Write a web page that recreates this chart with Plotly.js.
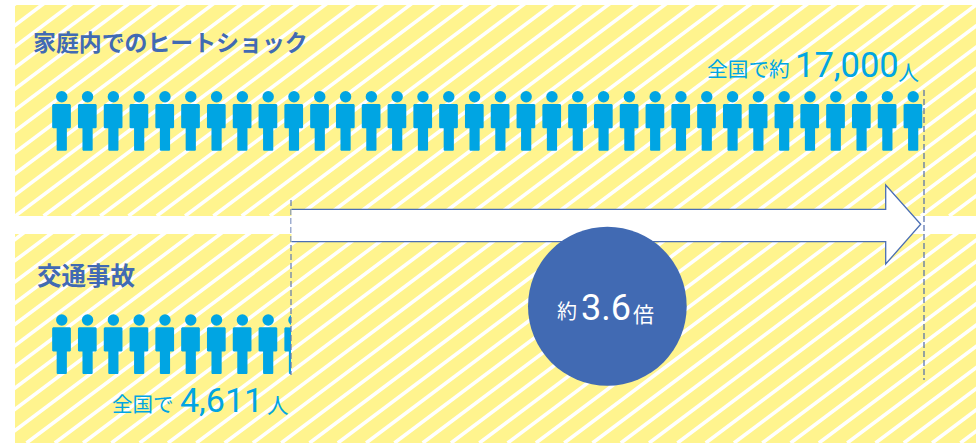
<!DOCTYPE html>
<html>
<head>
<meta charset="utf-8">
<script src="https://cdn.plot.ly/plotly-3.0.1.min.js"></script>
<style>html,body{margin:0;padding:0;background:#fff}#c{width:976px;height:443px}</style>
</head>
<body>
<div id="c"></div>
<script>
// ---- data ----
const categories = ['家庭内でのヒートショック', '交通事故'];
const deaths = [17000, 4611];
const peoplePerIcon = 500;
const ratioLabel = ['約', '3.6', '倍'];
const topLabels = ['全国で約', '17,000', '人'];
const bottomLabels = ['全国で', '4,611', '人'];

// ---- canvas / style ----
const W = 976, H = 443;
const YELLOW = '#FFF48E', BLUE = '#416AB3', CYAN = '#00A5E3';
const CJK = '"Noto Sans CJK JP"';
const NUM = 'Roboto';
const pitch = 25.8;                  // px per icon
const pxPerCount = pitch / peoplePerIcon;
const cutPx = 291;                   // where 4,611 falls on the canvas
const axisStart = deaths[1] - cutPx / pxPerCount;
const iconW = 18.7;
const iconOffsetCounts = -0.9 / pxPerCount;

function addIcons(count, dy) {
  const n = Math.ceil(count / peoplePerIcon);
  const bx = [], by = [], hx = [], hy = [];
  const u = 1 / pxPerCount;
  for (let i = 0; i < n; i++) {
    const l = i * peoplePerIcon + iconOffsetCounts;
    const s = [[1, 104], [iconW - 1, 104], [iconW, 105], [iconW, 127.5], [iconW - 1, 128.3], [14.7, 128.3],
               [14.7, 150], [14, 150.7], [5.2, 150.7], [4.5, 150], [4.5, 128.3], [1, 128.3], [0, 127.5], [0, 105], [1, 104]];
    s.forEach(p => { bx.push(l + p[0] * u); by.push(p[1] + dy); });
    bx.push(null); by.push(null);
    hx.push(l + 9.6 * u); hy.push(96.8 + dy);
  }
  return { bx, by, hx, hy };
}

function stripes(yRef, xAtRef) {
  const slope = 0.75, pitchS = 28.3, xs = [], ys = [];
  for (let k = -24; k < 40; k++) {
    const x0 = xAtRef + k * pitchS;
    xs.push(x0, x0 + 300); ys.push(yRef, yRef - 300 * slope);
    xs.push(null); ys.push(null);
  }
  return { xs, ys };
}

const topPanel = { y0: 5, y1: 216 }, botPanel = { y0: 234, y1: 443 }, panelLeft = 15;
const st1 = stripes(216, 15.3), st2 = stripes(443, 26.5);
const ic1 = addIcons(deaths[0], 0), ic2 = addIcons(deaths[1], 223.2);

const stripeLine = { color: '#fff', width: 3.6 };
const traces = [
  // canvas axis anchor (no marks)
  { type: 'scatter', x: [0], y: [0], mode: 'markers', marker: { opacity: 0 }, xaxis: 'x', yaxis: 'y', hoverinfo: 'skip' },
  { type: 'scatter', mode: 'lines', x: st1.xs, y: st1.ys, line: stripeLine, xaxis: 'x2', yaxis: 'y2', hoverinfo: 'skip' },
  { type: 'scatter', mode: 'lines', x: st2.xs, y: st2.ys, line: stripeLine, xaxis: 'x3', yaxis: 'y3', hoverinfo: 'skip' },
  { type: 'scatter', mode: 'lines', name: categories[0], x: ic1.bx, y: ic1.by, fill: 'toself', fillcolor: CYAN, line: { width: 0, color: CYAN }, xaxis: 'x4', yaxis: 'y', hoverinfo: 'skip' },
  { type: 'scatter', mode: 'markers', x: ic1.hx, y: ic1.hy, marker: { color: CYAN, size: 11.4, line: { width: 0 } }, xaxis: 'x4', yaxis: 'y', hoverinfo: 'skip' },
  { type: 'scatter', mode: 'lines', name: categories[1], x: ic2.bx, y: ic2.by, fill: 'toself', fillcolor: CYAN, line: { width: 0, color: CYAN }, xaxis: 'x5', yaxis: 'y', hoverinfo: 'skip' },
  { type: 'scatter', mode: 'markers', x: ic2.hx, y: ic2.hy, marker: { color: CYAN, size: 11.4, line: { width: 0 } }, xaxis: 'x5', yaxis: 'y', hoverinfo: 'skip' }
];

const hidden = { visible: false, fixedrange: true, showgrid: false, zeroline: false };
const fd = v => v / W, fy = v => 1 - v / H;

const shapes = [
  { type: 'rect', layer: 'below', xref: 'x', yref: 'y', x0: panelLeft, x1: W, y0: topPanel.y0, y1: topPanel.y1, fillcolor: YELLOW, line: { width: 0 } },
  { type: 'rect', layer: 'below', xref: 'x', yref: 'y', x0: panelLeft, x1: W, y0: botPanel.y0, y1: botPanel.y1, fillcolor: YELLOW, line: { width: 0 } },
  // dashed reference lines
  { type: 'line', layer: 'above', xref: 'x', yref: 'y', x0: 291, x1: 291, y0: 200, y1: 375, line: { color: '#5F77B2', width: 1.2, dash: '6px,3px' } },
  { type: 'line', layer: 'above', xref: 'x', yref: 'y', x0: 924, x1: 924, y0: 90, y1: 380, line: { color: '#4F6AAB', width: 1.2, dash: '6px,3px' } },
  // arrow
  { type: 'path', layer: 'above', xref: 'x', yref: 'y', path: 'M291.5,209.3 L885.7,209.3 L885.7,185 L920.7,224.3 L885.7,264 L885.7,241.7 L291.5,241.7 Z', fillcolor: '#fff', line: { width: 0 } },
  { type: 'path', layer: 'above', xref: 'x', yref: 'y', path: 'M291.5,209.3 L885.7,209.3 L885.7,185 L920.7,224.3 L885.7,264 L885.7,241.7 L291.5,241.7', line: { color: '#4A6EB4', width: 1.3 } },
  // ratio disc
  { type: 'circle', layer: 'above', xref: 'x', yref: 'y', x0: 528, x1: 686.7, y0: 226.7, y1: 385.7, fillcolor: BLUE, line: { width: 0 } }
];

function ann(text, x, y, size, color, family, weight, anchor) {
  return { text, x, y, xref: 'x', yref: 'y', xanchor: anchor || 'left', yanchor: 'middle', showarrow: false,
           font: { size, color, family, weight: weight || 400 }, borderpad: 0, borderwidth: 0, align: 'left' };
}

const annotations = [
  ann(categories[0], 33, 41, 22.9, BLUE, CJK, 700),
  ann(categories[1], 37, 274, 24.5, BLUE, CJK, 700),
  ann(topLabels[0], 707, 68, 20.7, CYAN, CJK),
  ann(topLabels[1], 795, 65, 34.5, CYAN, NUM),
  ann(topLabels[2], 898, 71, 21, CYAN, CJK),
  ann(bottomLabels[0], 112, 403, 20.5, CYAN, CJK),
  ann(bottomLabels[1], 180, 400, 34, CYAN, NUM),
  ann(bottomLabels[2], 267, 403, 21.5, CYAN, CJK),
  ann(ratioLabel[0], 557, 310, 20, '#fff', CJK),
  ann(ratioLabel[1], 581, 308, 36, '#fff', NUM),
  ann(ratioLabel[2], 633, 313, 21, '#fff', CJK)
];

const layout = {
  width: W, height: H,
  margin: { l: 0, r: 0, t: 0, b: 0, pad: 0 },
  paper_bgcolor: '#fff', plot_bgcolor: 'rgba(0,0,0,0)',
  showlegend: false, hovermode: false,
  xaxis:  Object.assign({}, hidden, { domain: [0, 1], range: [0, W] }),
  yaxis:  Object.assign({}, hidden, { domain: [0, 1], range: [H, 0] }),
  xaxis2: Object.assign({}, hidden, { domain: [fd(panelLeft), 1], range: [panelLeft, W], anchor: 'y2' }),
  yaxis2: Object.assign({}, hidden, { domain: [fy(topPanel.y1), fy(topPanel.y0)], range: [topPanel.y1, topPanel.y0], anchor: 'x2' }),
  xaxis3: Object.assign({}, hidden, { domain: [fd(panelLeft), 1], range: [panelLeft, W], anchor: 'y3' }),
  yaxis3: Object.assign({}, hidden, { domain: [fy(botPanel.y1), fy(botPanel.y0)], range: [botPanel.y1, botPanel.y0], anchor: 'x3' }),
  // count axes: the lower one ends exactly at 4,611, which clips the last icon
  xaxis4: Object.assign({}, hidden, { domain: [0, 1], range: [axisStart, axisStart + W / pxPerCount], anchor: 'y' }),
  xaxis5: Object.assign({}, hidden, { domain: [0, fd(cutPx)], range: [axisStart, deaths[1]], anchor: 'y' }),
  shapes, annotations
};

Plotly.newPlot('c', traces, layout, { displayModeBar: false, staticPlot: true });
</script>
</body>
</html>
